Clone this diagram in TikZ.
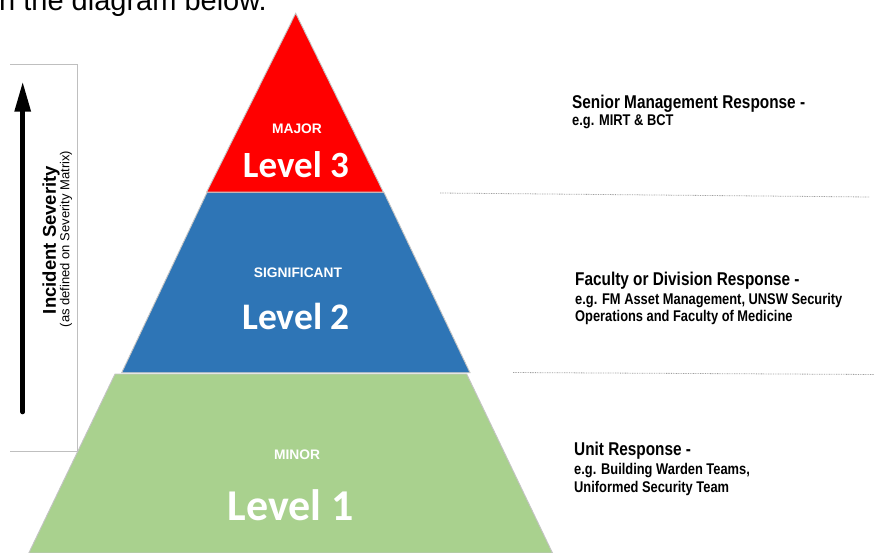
\documentclass[tikz,border=0pt]{standalone}
\usepackage{fontspec}
\setmainfont{Liberation Sans}
\newfontfamily\narrowfont[FakeStretch=0.83]{Liberation Sans}
\newfontfamily\calfont{Carlito}
\usetikzlibrary{arrows.meta}
\definecolor{lvlred}{HTML}{FF0000}
\definecolor{lvlblue}{HTML}{2E75B6}
\definecolor{lvlgreen}{HTML}{A9D18E}
\definecolor{edgegray}{HTML}{C4C4C4}
\definecolor{boxgray}{HTML}{BFBFBF}
\begin{document}
\begin{tikzpicture}[x=1pt,y=-1pt,
  layer/.style={draw=edgegray,line width=0.9pt},
  tag/.style={text=white,font=\bfseries\fontsize{13.8}{15}\selectfont,anchor=base,inner sep=0pt},
  lvl/.style={text=white,font=\calfont\bfseries,anchor=base,inner sep=0pt},
  resphead/.style={font=\narrowfont\bfseries\fontsize{18.5}{20}\selectfont,anchor=base west,inner sep=0pt},
  respline/.style={font=\narrowfont\bfseries\fontsize{15.5}{17}\selectfont,anchor=base west,inner sep=0pt},
  sepline/.style={draw=gray!75,line width=0.8pt,dash pattern=on 0.8pt off 0.9pt}]
\useasboundingbox (0,0) rectangle (874,552);
\clip (0,0) rectangle (874,552);
\fill[white] (0,0) rectangle (874,552);

% clipped heading text above the figure
\node[anchor=base west,inner sep=0pt,font=\fontsize{29}{32}\selectfont] (head) at (-1,10) {n the diagram below.};

% severity box
\draw[boxgray,line width=0.9pt] (10,64) -- (77.7,64) -- (77.7,451.7) -- (10,451.7);
\coordinate (arrlow) at (22.7,412);
\coordinate (arrtip) at (22.7,81.7);
\draw[line width=4.6pt,line cap=round,-{Triangle[length=30pt,width=15.5pt]}] (arrlow) -- (arrtip);
\node[rotate=90,inner sep=0pt,font=\bfseries\fontsize{18.5}{20}\selectfont] (sev) at (51,240) {Incident Severity};
\node[rotate=90,inner sep=0pt,font=\fontsize{13}{14}\selectfont] (sevsub) at (66,239) {(as defined on Severity Matrix)};

% pyramid
\path[layer,fill=lvlgreen] (115,374) -- (466.7,374) -- (552.5,553) -- (28.8,553) -- cycle;
\path[layer,fill=lvlblue] (207,192.5) -- (384,192.5) -- (470,372.7) -- (121.7,372.7) -- cycle;
\path[layer,fill=lvlred] (295.7,13.3) -- (383.3,192) -- (206.7,192) -- cycle;

\node[tag] (major) at (297,133) {MAJOR};
\node[lvl,font=\calfont\bfseries\fontsize{37}{40}\selectfont] (lv3) at (296,177.5) {Level 3};
\node[tag] (signif) at (298,277) {SIGNIFICANT};
\node[lvl,font=\calfont\bfseries\fontsize{37.5}{40}\selectfont] (lv2) at (296,329.5) {Level 2};
\node[tag] (minor) at (297,459.5) {MINOR};
\node[lvl,font=\calfont\bfseries\fontsize{44}{48}\selectfont] (lv1) at (291,520.5) {Level 1};

% separators
\coordinate (s1a) at (440,193);
\coordinate (s1b) at (870,197);
\coordinate (s2a) at (513,372.5);
\coordinate (s2b) at (874,374.5);
\draw[sepline] (s1a) -- (s1b);
\draw[sepline] (s2a) -- (s2b);

% responses
\node[resphead] (r3a) at (572,108) {Senior Management Response -};
\node[respline] (r3b) at (572,125.5) {e.g. MIRT \& BCT};

\node[resphead] (r2a) at (575,285) {Faculty or Division Response -};
\node[respline] (r2b) at (575,304) {e.g. FM Asset Management, UNSW Security};
\node[respline] (r2c) at (575,321.5) {Operations and Faculty of Medicine};

\node[resphead] (r1a) at (574,455) {Unit Response -};
\node[respline] (r1b) at (574,474) {e.g. Building Warden Teams,};
\node[respline] (r1c) at (574,492) {Uniformed Security Team};
\end{tikzpicture}
\end{document}
